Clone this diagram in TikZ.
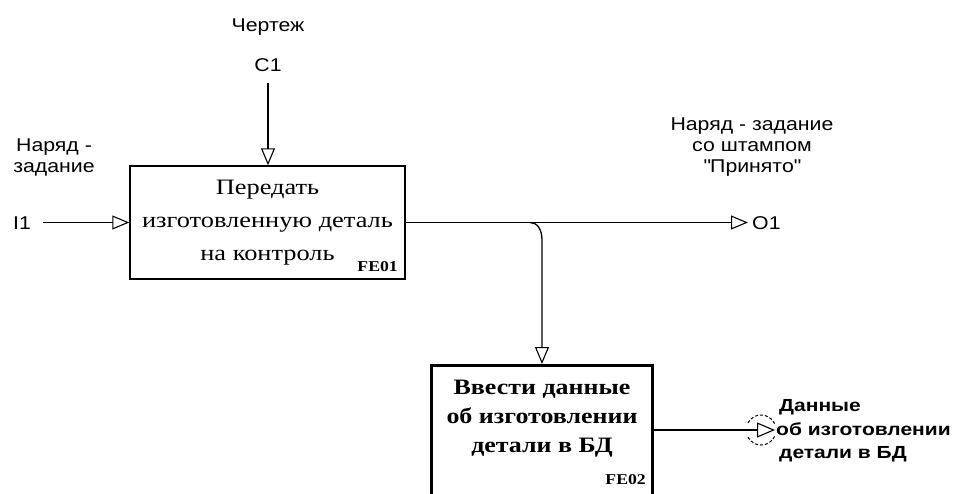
\documentclass[tikz,border=0pt]{standalone}
\usepackage{fontspec}
\setmainfont{Liberation Serif}
\setsansfont{Liberation Sans}
\newfontfamily\wideserif[FakeStretch=1.2]{Liberation Serif}
\newfontfamily\widebserif[FakeStretch=1.18]{Liberation Serif}
\newfontfamily\widesans[FakeStretch=1.15]{Liberation Sans}
\newfontfamily\widebsans[FakeStretch=1.2]{Liberation Sans}
\usetikzlibrary{arrows.meta}
\tikzset{
  arr/.style={-{Triangle[open,length=17pt,width=14pt,line width=1.1pt]}, line width=1.3pt},
  lbl/.style={font=\widesans\fontsize{18.5}{21}\selectfont, inner sep=0pt, align=center},
  boldlbl/.style={font=\widebsans\bfseries\fontsize{17.5}{23.5}\selectfont, inner sep=0pt, align=left},
  func/.style={draw, line width=1.5pt, minimum width=275pt, minimum height=113pt, inner sep=0pt, align=center,
    font=\wideserif\fontsize{22}{33}\selectfont},
  funcb/.style={draw, line width=3pt, minimum width=221pt, minimum height=140pt, inner sep=0pt},
  functext/.style={inner sep=0pt, align=center, font=\widebserif\bfseries\fontsize{22}{29}\selectfont},
  num/.style={inner sep=0pt, font=\widebserif\bfseries\fontsize{15}{15}\selectfont}
}
\begin{document}
\begin{tikzpicture}[x=1pt,y=-1pt]
\useasboundingbox (0,0) rectangle (959,493);
\clip (0,0) rectangle (959,493);
% boxes
\node[func] (box1) at (267.5,222.5) {Передать\\изготовленную деталь\\на контроль};
\node[num, anchor=base east] (fe1) at (398,271) {FE01};
\node[funcb, anchor=north] (box2) at (542,364) {};
\node[functext] (box2t) at (542,419) {Ввести данные\\об изготовлении\\детали в БД};
\node[num, anchor=base east] (fe2) at (646,484) {FE02};
% control
\node[lbl] (chert) at (268,27) {Чертеж};
\node[lbl] (c1l) at (268,65) {C1};
\coordinate (c1) at (268,83);
\draw[arr] (c1) -- (c1 |- box1.north);
% input
\node[lbl] (narl) at (54,157) {Наряд -\\задание};
\node[lbl, anchor=west] (i1l) at (13,223) {I1};
\coordinate (i1) at (43,222.5);
\draw[arr] (i1) -- (box1.west);
% output O1
\coordinate (o1) at (748,222.5);
\draw[arr] (box1.east) -- (o1);
\node[lbl, anchor=west] (o1l) at (752,223) {O1};
\node[lbl] (outl) at (752,147) {Наряд - задание\\со штампом\\\textquotedbl Принято\textquotedbl};
% branch
\coordinate (br) at (530,222.5);
\coordinate (brd) at (542,240);
\draw[arr] (br) .. controls (537,222.5) and (542,229) .. (brd) -- (box2.north);
% output of box2
\coordinate (o2) at (775,430);
\coordinate (tc) at (761,430);
\draw[-{Triangle[open,length=18pt,width=15pt,line width=1.1pt]}, line width=2.4pt] (box2.east |- o2) -- (o2);
\draw[line width=1pt, dash pattern=on 3pt off 2pt] ([shift={(25:15pt)}]tc) arc[start angle=25, end angle=155, radius=15pt];
\draw[line width=1pt, dash pattern=on 3pt off 2pt] ([shift={(-25:15pt)}]tc) arc[start angle=-25, end angle=-155, radius=15pt];
\node[boldlbl, anchor=west] (o2l) at (776,431) {\hspace*{3pt}Данные\\об изготовлении\\\hspace*{3pt}детали в БД};
\end{tikzpicture}
\end{document}
